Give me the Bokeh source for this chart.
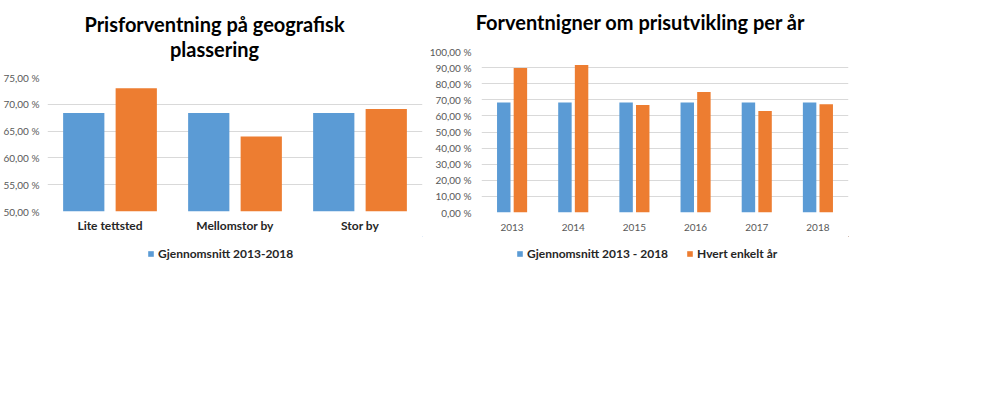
from bokeh.plotting import figure
from bokeh.models import (Range1d, FactorRange, FixedTicker, Legend, LegendItem, Label,
                          ColumnDataSource)
from bokeh.transform import dodge
from bokeh.layouts import row, column
from bokeh.embed import file_html
from bokeh.resources import INLINE

# ---------------- data ----------------
places = ["Lite tettsted", "Mellomstor by", "Stor by"]
place_avg = [68.4, 68.4, 68.4]
place_val = [73.0, 64.0, 69.1]
left_ticks = [50, 55, 60, 65, 70, 75]
left_tick_labels = ["50,00 %", "55,00 %", "60,00 %", "65,00 %", "70,00 %", "75,00 %"]

years = ["2013", "2014", "2015", "2016", "2017", "2018"]
year_avg = [68.4, 68.4, 68.4, 68.4, 68.4, 68.4]
year_val = [89.8, 91.6, 66.7, 74.9, 63.0, 67.2]
right_ticks = [0, 10, 20, 30, 40, 50, 60, 70, 80, 90, 100]
right_tick_labels = ["0,00 %", "10,00 %", "20,00 %", "30,00 %", "40,00 %", "50,00 %",
                     "60,00 %", "70,00 %", "80,00 %", "90,00 %", "100,00 %"]

left_title = ["Prisforventning på geografisk", "plassering"]
right_title = "Forventnigner om prisutvikling per år"
avg_label_left = "Gjennomsnitt 2013-2018"
avg_label_right = "Gjennomsnitt 2013 - 2018"
val_label_right = "Hvert enkelt år"

# ---------------- style ----------------
BLUE = "#5B9BD5"
ORANGE = "#ED7D31"
GRID = "#D9D9D9"
TICK = "#595959"
DARK = "#262626"
FONT = "Lato"


def no_align(p):
    p.title.visible = False
    p.outline_line_color = None
    if "frame_align" in p.properties():
        p.frame_align = False


def style_axes(p, ticks, labels):
    p.yaxis.ticker = FixedTicker(ticks=ticks)
    p.yaxis.major_label_overrides = {t: l for t, l in zip(ticks, labels)}
    for ax in (p.xaxis[0], p.yaxis[0]):
        ax.axis_line_color = None
        ax.major_tick_line_color = None
        ax.minor_tick_line_color = None
        ax.major_tick_out = 0
        ax.major_tick_in = 0
        ax.minor_tick_out = 0
        ax.major_label_text_font = FONT
    p.yaxis.major_label_text_font_size = "10px"
    p.yaxis.major_label_text_color = TICK
    p.xgrid.grid_line_color = None
    p.ygrid.grid_line_color = GRID
    p.ygrid.grid_line_width = 1
    no_align(p)


def blank_fig(width, height, left, right):
    f = figure(width=width, height=height, output_backend="svg", toolbar_location=None,
               x_axis_location=None, y_axis_location=None,
               x_range=Range1d(0, 1), y_range=Range1d(0, 1),
               min_border_left=left, min_border_right=right, min_border_top=0, min_border_bottom=0)
    f.grid.visible = False
    no_align(f)
    return f


def title_label(text, x, y):
    return Label(x=x, y=y, x_units="screen", y_units="screen", text=text,
                 text_align="center", text_baseline="alphabetic", text_font=FONT,
                 text_font_size="20px", text_font_style="bold", text_color="#000000")


def make_legend(items, x, y):
    return Legend(items=items, orientation="horizontal", location=(x, y), spacing=18,
                  label_text_font=FONT, label_text_font_style="bold", label_text_font_size="12px",
                  label_text_color=DARK, glyph_width=7, glyph_height=7, label_standoff=4,
                  label_height=16, border_line_color=None, background_fill_alpha=0,
                  padding=0, margin=0)


# ---------------- left chart ----------------
src1 = ColumnDataSource(dict(cat=places, avg=place_avg, val=place_val))
p1 = figure(x_range=FactorRange(*places), y_range=Range1d(50, 75),
            width=425, height=167, output_backend="svg", toolbar_location=None,
            min_border_left=47, min_border_right=3, min_border_top=8, min_border_bottom=25)
style_axes(p1, left_ticks, left_tick_labels)
p1.yaxis.major_label_standoff = 8
p1.xaxis.major_label_text_font_size = "12px"
p1.xaxis.major_label_text_font_style = "bold"
p1.xaxis.major_label_text_color = DARK
p1.xaxis.major_label_standoff = 6

p1.vbar(x=dodge("cat", -0.21, range=p1.x_range), top="avg", bottom=50, width=0.33,
        source=src1, fill_color=BLUE, line_color=None)
p1.vbar(x=dodge("cat", 0.21, range=p1.x_range), top="val", bottom=50, width=0.33,
        source=src1, fill_color=ORANGE, line_color=None)

t1 = blank_fig(425, 69, 47, 3)
t1.add_layout(title_label(left_title[0], 167, 46))
t1.add_layout(title_label(left_title[1], 167, 21))

# legend strip: swatch renderers use the chart's own values, which lie outside this strip's range
l1 = blank_fig(425, 30, 47, 3)
sw1 = l1.vbar(x="avg", top="avg", bottom="avg", width=0.0, source=src1,
              fill_color=BLUE, line_color=None)
l1.add_layout(make_legend([LegendItem(label=avg_label_left, renderers=[sw1], index=0)], 100, 5))

# ---------------- right chart ----------------
src2 = ColumnDataSource(dict(cat=years, avg=year_avg, val=year_val))
p2 = figure(x_range=FactorRange(*years), y_range=Range1d(0, 100),
            width=435, height=193, output_backend="svg", toolbar_location=None,
            min_border_left=56, min_border_right=12, min_border_top=8, min_border_bottom=24)
style_axes(p2, right_ticks, right_tick_labels)
p2.yaxis.major_label_standoff = 10
p2.xaxis.major_label_text_font_size = "10px"
p2.xaxis.major_label_text_color = TICK
p2.xaxis.major_label_standoff = 11

p2.vbar(x=dodge("cat", -0.136, range=p2.x_range), top="avg", bottom=0, width=0.22,
        source=src2, fill_color=BLUE, line_color=None)
p2.vbar(x=dodge("cat", 0.136, range=p2.x_range), top="val", bottom=0, width=0.22,
        source=src2, fill_color=ORANGE, line_color=None)

t2 = blank_fig(435, 43, 40, 12)
t2.add_layout(title_label(right_title, 175, 22))

l2 = blank_fig(435, 30, 56, 12)
sw2a = l2.vbar(x="avg", top="avg", bottom="avg", width=0.0, source=src2,
               fill_color=BLUE, line_color=None)
sw2b = l2.vbar(x="val", top="val", bottom="val", width=0.0, source=src2,
               fill_color=ORANGE, line_color=None)
l2.add_layout(make_legend([LegendItem(label=avg_label_right, renderers=[sw2a], index=0),
                           LegendItem(label=val_label_right, renderers=[sw2b], index=0)], 35, 5))

layout = row(column(t1, p1, l1), column(t2, p2, l2))

open("out.html", "w").write(file_html(layout, INLINE))
